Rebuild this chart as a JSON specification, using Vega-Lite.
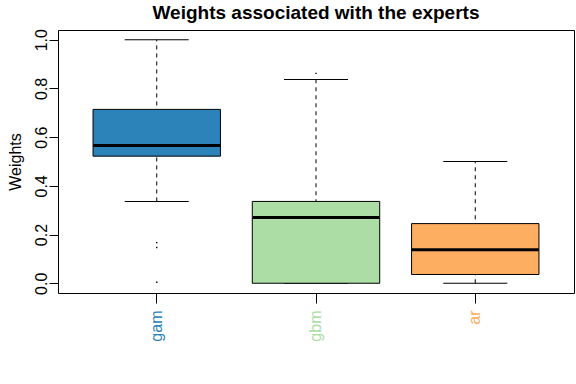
{
  "$schema": "https://vega.github.io/schema/vega-lite/v6.json",
  "width": 516,
  "height": 263,
  "autosize": "none",
  "padding": {"left": 58, "top": 30, "right": 2, "bottom": 91},
  "title": {"text": "Weights associated with the experts", "font": "Liberation Sans", "fontSize": 19, "fontWeight": "bold", "color": "black", "anchor": "middle", "frame": "group", "offset": 6},
  "config": {
    "view": {"stroke": "black", "strokeWidth": 1},
    "axis": {"labelFont": "Liberation Sans", "titleFont": "Liberation Sans", "labelColor": "black", "titleColor": "black", "tickColor": "black", "grid": false, "domain": false, "labelFontSize": 16, "titleFontSize": 16, "titleFontWeight": "normal"}
  },
  "datasets": {
    "boxes": [
      {"expert": "gam", "lower": 0.336, "q1": 0.522, "median": 0.566, "q3": 0.714, "upper": 1.0},
      {"expert": "gbm", "lower": 0.0, "q1": 0.0, "median": 0.270, "q3": 0.336, "upper": 0.837},
      {"expert": "ar", "lower": 0.0, "q1": 0.036, "median": 0.138, "q3": 0.245, "upper": 0.500}
    ],
    "outliers": [
      {"expert": "gam", "value": 0.167},
      {"expert": "gam", "value": 0.147},
      {"expert": "gam", "value": 0.004},
      {"expert": "gbm", "value": 0.862}
    ]
  },
  "encoding": {
    "x": {
      "field": "expert", "type": "nominal",
      "scale": {"domain": ["gam", "gbm", "ar"], "paddingInner": 0, "paddingOuter": 0.12},
      "axis": {"title": null, "labelAngle": -90, "tickSize": 10, "labelPadding": 7,
        "labelColor": {"expr": "datum.label == 'gam' ? '#2B83BA' : datum.label == 'gbm' ? '#ABDDA4' : '#FDAE61'"}}
    }
  },
  "layer": [
    {
      "data": {"name": "boxes"},
      "mark": {"type": "rule", "color": "black", "strokeWidth": 1, "strokeDash": [4, 4], "opacity": 1},
      "encoding": {
        "y": {"field": "lower", "type": "quantitative",
          "scale": {"domain": [-0.04, 1.04], "nice": false, "zero": false},
          "axis": {"values": [0, 0.2, 0.4, 0.6, 0.8, 1.0], "format": ".1f", "title": "Weights", "labelAngle": -90, "labelAlign": "center", "labelBaseline": "alphabetic", "tickSize": 9, "labelPadding": 3, "titleAngle": -90, "titleAlign": "center", "titleBaseline": "alphabetic", "titleX": -38, "titleY": 131.5}},
        "y2": {"field": "upper"}
      }
    },
    {
      "data": {"name": "boxes"},
      "mark": {"type": "tick", "color": "black", "size": 64, "thickness": 1, "opacity": 1},
      "encoding": {"y": {"field": "lower", "type": "quantitative"}}
    },
    {
      "data": {"name": "boxes"},
      "mark": {"type": "tick", "color": "black", "size": 64, "thickness": 1, "opacity": 1},
      "encoding": {"y": {"field": "upper", "type": "quantitative"}}
    },
    {
      "data": {"name": "boxes"},
      "mark": {"type": "bar", "stroke": "black", "strokeWidth": 1, "width": {"band": 0.8}, "opacity": 1},
      "encoding": {
        "y": {"field": "q1", "type": "quantitative"},
        "y2": {"field": "q3"},
        "fill": {"field": "expert", "type": "nominal", "scale": {"domain": ["gam", "gbm", "ar"], "range": ["#2B83BA", "#ABDDA4", "#FDAE61"]}, "legend": null}
      }
    },
    {
      "data": {"name": "boxes"},
      "mark": {"type": "tick", "color": "black", "size": 127, "thickness": 3, "opacity": 1},
      "encoding": {"y": {"field": "median", "type": "quantitative"}}
    },
    {
      "data": {"name": "outliers"},
      "mark": {"type": "point", "shape": "square", "filled": true, "color": "black", "size": 2, "opacity": 1},
      "encoding": {"y": {"field": "value", "type": "quantitative"}}
    }
  ]
}
